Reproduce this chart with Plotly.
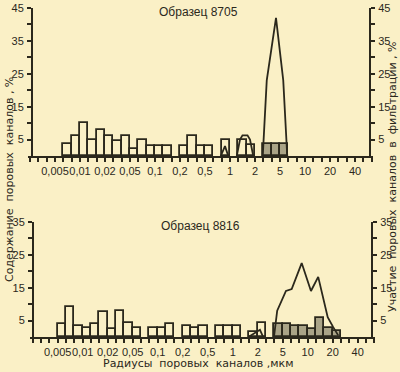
import plotly.graph_objects as go

# x-axis tick labels (evenly spaced pseudo-log scale), bins are 1/3 of a label step
x_labels = ["0,005", "0,01", "0,02", "0,05", "0,1", "0,2", "0,5", "1", "2", "5", "10", "20", "40"]

# Sample 8705 (top): pore-channel content per bin (bin index -> %)
top_open_bins = [1, 2, 3, 4, 5, 6, 7, 8, 9, 10, 11, 12, 13, 15, 16, 17, 18, 20, 22, 23]
top_open_vals = [3.5, 6, 10, 5, 8, 6, 4.5, 6, 2, 5, 3, 3, 3, 3, 6, 3, 3, 5, 5, 3.3]
top_shaded_bins = [25, 26, 27]
top_shaded_vals = [3.5, 3.5, 3.5]
# participation in filtration (line), x in label units
top_line1_x = [6.63, 6.8, 6.93]
top_line1_y = [0, 3, 0]
top_line2_x = [7.27, 7.4, 7.5, 7.7, 7.8, 7.93]
top_line2_y = [0, 5, 6.3, 6.3, 5, 0]
top_line3_x = [8.31, 8.47, 8.84, 9.13, 9.29]
top_line3_y = [0, 23, 42, 23, 0]

# Sample 8816 (bottom)
bot_open_bins = [0, 1, 2, 3, 4, 5, 6, 7, 8, 9, 11, 12, 13, 15, 16, 17, 19, 20, 21, 23, 24]
bot_open_vals = [4, 9, 3.3, 2.7, 4, 7.5, 2.5, 7.8, 4.2, 2.8, 2.8, 2.8, 4, 3.3, 2.8, 3.5, 3.3, 3.2, 3.4, 1.6, 4.2]
bot_shaded_bins = [26, 27, 28, 29, 30, 31, 32, 33]
bot_shaded_vals = [4, 4, 3.2, 3.2, 2.4, 5.9, 2.6, 1.9]
bot_line1_x = [7.63, 7.96, 8.09, 8.22]
bot_line1_y = [0, 1.7, 2.2, 0]
bot_line2_x = [8.65, 8.78, 9.13, 9.36, 9.76, 10.13, 10.42, 10.8, 11.02, 11.22]
bot_line2_y = [0, 8, 14, 14.6, 22.5, 14, 18.3, 6, 3, 0.5]

BG = "#FAF0C6"
INK = "#2b281c"
SHADE = "#aaa487"
TICKFONT = dict(family="Liberation Sans", size=11, color=INK)
TXTFONT = dict(family="DejaVu Sans, Liberation Sans", size=11, color=INK)

def centers(bins):
    return [(b + 0.5) / 3 for b in bins]

fig = go.Figure()

def add_bars(bins, vals, fill, xa, ya):
    fig.add_trace(go.Bar(x=centers(bins), y=vals, width=[1/3]*len(bins),
                         marker=dict(color=fill, line=dict(color=INK, width=1.8)),
                         xaxis=xa, yaxis=ya, showlegend=False, hoverinfo="skip"))

def add_line(xs, ys, xa, ya):
    fig.add_trace(go.Scatter(x=xs, y=ys, mode="lines", line=dict(color=INK, width=1.8),
                             xaxis=xa, yaxis=ya, showlegend=False, hoverinfo="skip"))

add_bars(top_open_bins, top_open_vals, BG, "x", "y")
add_bars(top_shaded_bins, top_shaded_vals, SHADE, "x", "y")
add_line(top_line1_x, top_line1_y, "x", "y3")
add_line(top_line2_x, top_line2_y, "x", "y3")
add_line(top_line3_x, top_line3_y, "x", "y3")

add_bars(bot_open_bins, bot_open_vals, BG, "x2", "y2")
add_bars(bot_shaded_bins, bot_shaded_vals, SHADE, "x2", "y2")
add_line(bot_line1_x, bot_line1_y, "x2", "y4")
add_line(bot_line2_x, bot_line2_y, "x2", "y4")

W, H = 400, 372
minor_x = [k / 3 for k in range(-3, 39)]

def xaxis(dom, rng, anchor):
    return dict(domain=dom, range=rng, anchor=anchor, showgrid=False, zeroline=False,
                showline=True, linecolor=INK, linewidth=2, automargin=False, tickangle=0,
                tickmode="array", tickvals=list(range(len(x_labels))), ticktext=x_labels,
                ticks="outside", ticklen=4, tickwidth=1.5, tickcolor=INK, tickfont=TICKFONT,
                minor=dict(tickmode="array", tickvals=minor_x, ticks="outside", ticklen=4,
                           tickwidth=1.5, tickcolor=INK, showgrid=False),
                fixedrange=True)

def yaxis(dom, top, pos, side, overlay=None):
    vals = [v for v in [5, 15, 25, 35, 45] if v <= top]
    d = dict(domain=dom, range=[0, top], anchor="free", position=pos, side=side,
             showgrid=False, zeroline=False, showline=True, linecolor=INK, linewidth=2,
             automargin=False, ticklabelstandoff=1,
             tickmode="array", tickvals=vals, ticktext=[str(v) for v in vals],
             ticks="outside", ticklen=4, tickwidth=1.5, tickcolor=INK, tickfont=TICKFONT,
             minor=dict(tickmode="array", tickvals=[v for v in [10, 20, 30, 40] if v <= top],
                        ticks="outside", ticklen=4, tickwidth=1.5, tickcolor=INK, showgrid=False),
             fixedrange=True)
    if overlay:
        d["overlaying"] = overlay
    return d

top_dom_y = [(H - 156) / H, (H - 8) / H]
bot_dom_y = [(H - 337) / H, (H - 222) / H]

def note(text, px, py, font, angle=0):
    return dict(text=text, x=px / W, y=(H - py) / H, xref="paper", yref="paper",
                xanchor="center", yanchor="middle", textangle=angle,
                showarrow=False, font=font)

TITLEFONT = dict(family="Liberation Sans", size=12, color=INK)

fig.update_layout(
    width=W, height=H, margin=dict(l=0, r=0, t=0, b=0, autoexpand=False),
    paper_bgcolor=BG, plot_bgcolor="rgba(0,0,0,0)", bargap=0, barmode="overlay",
    xaxis=xaxis([28 / W, 373 / W], [(28 - 55) / 25, (373 - 55) / 25], "y"),
    yaxis=yaxis(top_dom_y, 45, 32 / W, "left"),
    yaxis3=yaxis(top_dom_y, 45, 370 / W, "right", overlay="y"),
    xaxis2=xaxis([30 / W, 375 / W], [(30 - 57.7) / 25, (375 - 57.7) / 25], "y2"),
    yaxis2=yaxis(bot_dom_y, 35, 33 / W, "left"),
    yaxis4=yaxis(bot_dom_y, 35, 372 / W, "right", overlay="y2"),
    annotations=[
        note("Образец 8705", 198, 12, TITLEFONT),
        note("Образец 8816", 200, 226, TITLEFONT),
        note("Радиусы  поровых  каналов ,мкм", 198, 363, TXTFONT),
        note("Содержание  поровых  каналов , %", 9, 180, TXTFONT, -90),
        note("Участие  поровых  каналов  в  фильтрации , %", 392, 177, TXTFONT, -90),
    ],
)

fig.write_html("out.html", config={"displayModeBar": False},
               post_script="document.body.style.margin='0';document.body.style.overflow='hidden';")
